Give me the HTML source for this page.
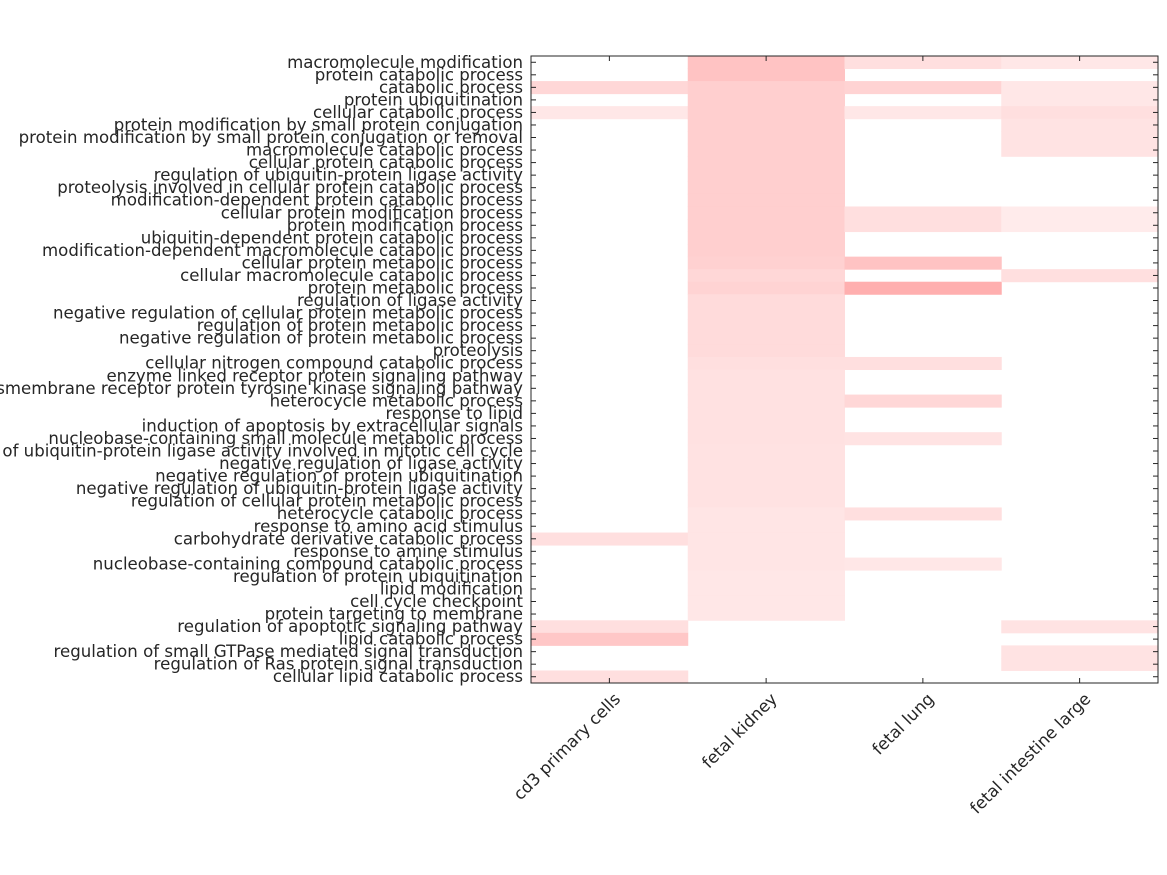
<!DOCTYPE html>
<html><head><meta charset="utf-8"><style>body{margin:0;background:#fff}svg{display:block}</style></head>
<body>
<svg id="chart" width="1167" height="875" xmlns="http://www.w3.org/2000/svg"></svg>
<script>
const rowLabels = ["macromolecule modification","protein catabolic process","catabolic process","protein ubiquitination","cellular catabolic process","protein modification by small protein conjugation","protein modification by small protein conjugation or removal","macromolecule catabolic process","cellular protein catabolic process","regulation of ubiquitin-protein ligase activity","proteolysis involved in cellular protein catabolic process","modification-dependent protein catabolic process","cellular protein modification process","protein modification process","ubiquitin-dependent protein catabolic process","modification-dependent macromolecule catabolic process","cellular protein metabolic process","cellular macromolecule catabolic process","protein metabolic process","regulation of ligase activity","negative regulation of cellular protein metabolic process","regulation of protein metabolic process","negative regulation of protein metabolic process","proteolysis","cellular nitrogen compound catabolic process","enzyme linked receptor protein signaling pathway","transmembrane receptor protein tyrosine kinase signaling pathway","heterocycle metabolic process","response to lipid","induction of apoptosis by extracellular signals","nucleobase-containing small molecule metabolic process","regulation of ubiquitin-protein ligase activity involved in mitotic cell cycle","negative regulation of ligase activity","negative regulation of protein ubiquitination","negative regulation of ubiquitin-protein ligase activity","regulation of cellular protein metabolic process","heterocycle catabolic process","response to amino acid stimulus","carbohydrate derivative catabolic process","response to amine stimulus","nucleobase-containing compound catabolic process","regulation of protein ubiquitination","lipid modification","cell cycle checkpoint","protein targeting to membrane","regulation of apoptotic signaling pathway","lipid catabolic process","regulation of small GTPase mediated signal transduction","regulation of Ras protein signal transduction","cellular lipid catabolic process"];
const colLabels = ["cd3 primary cells","fetal kidney","fetal lung","fetal intestine large"];
const valsCd3 = [0,0,0.5,0,0.3,0,0,0,0,0,0,0,0,0,0,0,0,0,0,0,0,0,0,0,0,0,0,0,0,0,0,0,0,0,0,0,0,0,0.4,0,0,0,0,0,0,0.4,0.7,0,0,0.4];
const valsKidney = [0.75,0.75,0.6,0.6,0.6,0.6,0.6,0.6,0.6,0.6,0.6,0.6,0.6,0.6,0.6,0.6,0.57,0.5,0.55,0.45,0.45,0.45,0.45,0.45,0.4,0.38,0.38,0.38,0.38,0.38,0.38,0.36,0.36,0.36,0.36,0.36,0.33,0.33,0.33,0.33,0.32,0.3,0.3,0.3,0.3,0,0,0,0,0];
const valsLung = [0.4,0,0.55,0,0.3,0,0,0,0,0,0,0,0.4,0.4,0,0,0.75,0,1.0,0,0,0,0,0,0.4,0,0,0.5,0,0,0.35,0,0,0,0,0,0.4,0,0,0,0.3,0,0,0,0,0,0,0,0,0];
const valsIntestine = [0.3,0,0.3,0.3,0.4,0.35,0.35,0.35,0,0,0,0,0.25,0.25,0,0,0,0.4,0,0,0,0,0,0,0,0,0,0,0,0,0,0,0,0,0,0,0,0,0,0,0,0,0,0,0,0.35,0,0.35,0.35,0];
const series = [valsCd3, valsKidney, valsLung, valsIntestine];

const NS="http://www.w3.org/2000/svg", svg=document.getElementById('chart');
const L=531,R=1158,T=56,B=683;
const nR=rowLabels.length,nC=colLabels.length;
const rh=(B-T)/nR, cw=(R-L)/nC;
const yPos=i=>T+i*rh, xPos=j=>L+j*cw;
function el(t,a){const e=document.createElementNS(NS,t);for(const k in a)e.setAttribute(k,a[k]);svg.appendChild(e);return e;}
function color(v){const c=Math.round(255-80*v);return `rgb(255,${c},${c})`;}
series.forEach((s,j)=>s.forEach((v,i)=>{
  if(v<=0)return;
  const r=el('rect',{x:xPos(j),y:yPos(i),width:cw+0.5,height:rh+0.5,fill:color(v)});
  
  
}));
const fr=el('rect',{x:L,y:T,width:R-L,height:B-T,fill:'none',stroke:'#262626','stroke-width':1});


rowLabels.forEach((lab,i)=>{
  const y=yPos(i)+rh/2;
  el('line',{x1:L,x2:L+5,y1:y,y2:y,stroke:'#262626'});
  el('line',{x1:R-5,x2:R,y1:y,y2:y,stroke:'#262626'});
  const t=el('text',{x:523,y:y+5.5,'text-anchor':'end','font-family':'DejaVu Sans, Liberation Sans, sans-serif','font-size':'16.6',fill:'#262626'});
  t.textContent=lab;
  
  
});
colLabels.forEach((lab,j)=>{
  const x=xPos(j)+cw/2;
  el('line',{x1:x,x2:x,y1:T,y2:T+5,stroke:'#262626'});
  el('line',{x1:x,x2:x,y1:B-5,y2:B,stroke:'#262626'});
  const t=el('text',{x:x+12,y:700,'text-anchor':'end','font-family':'DejaVu Sans, Liberation Sans, sans-serif','font-size':'16.6',fill:'#262626',transform:`rotate(-45 ${x+12} 700)`});
  t.textContent=lab;
  
  
});
</script>
</body></html>
